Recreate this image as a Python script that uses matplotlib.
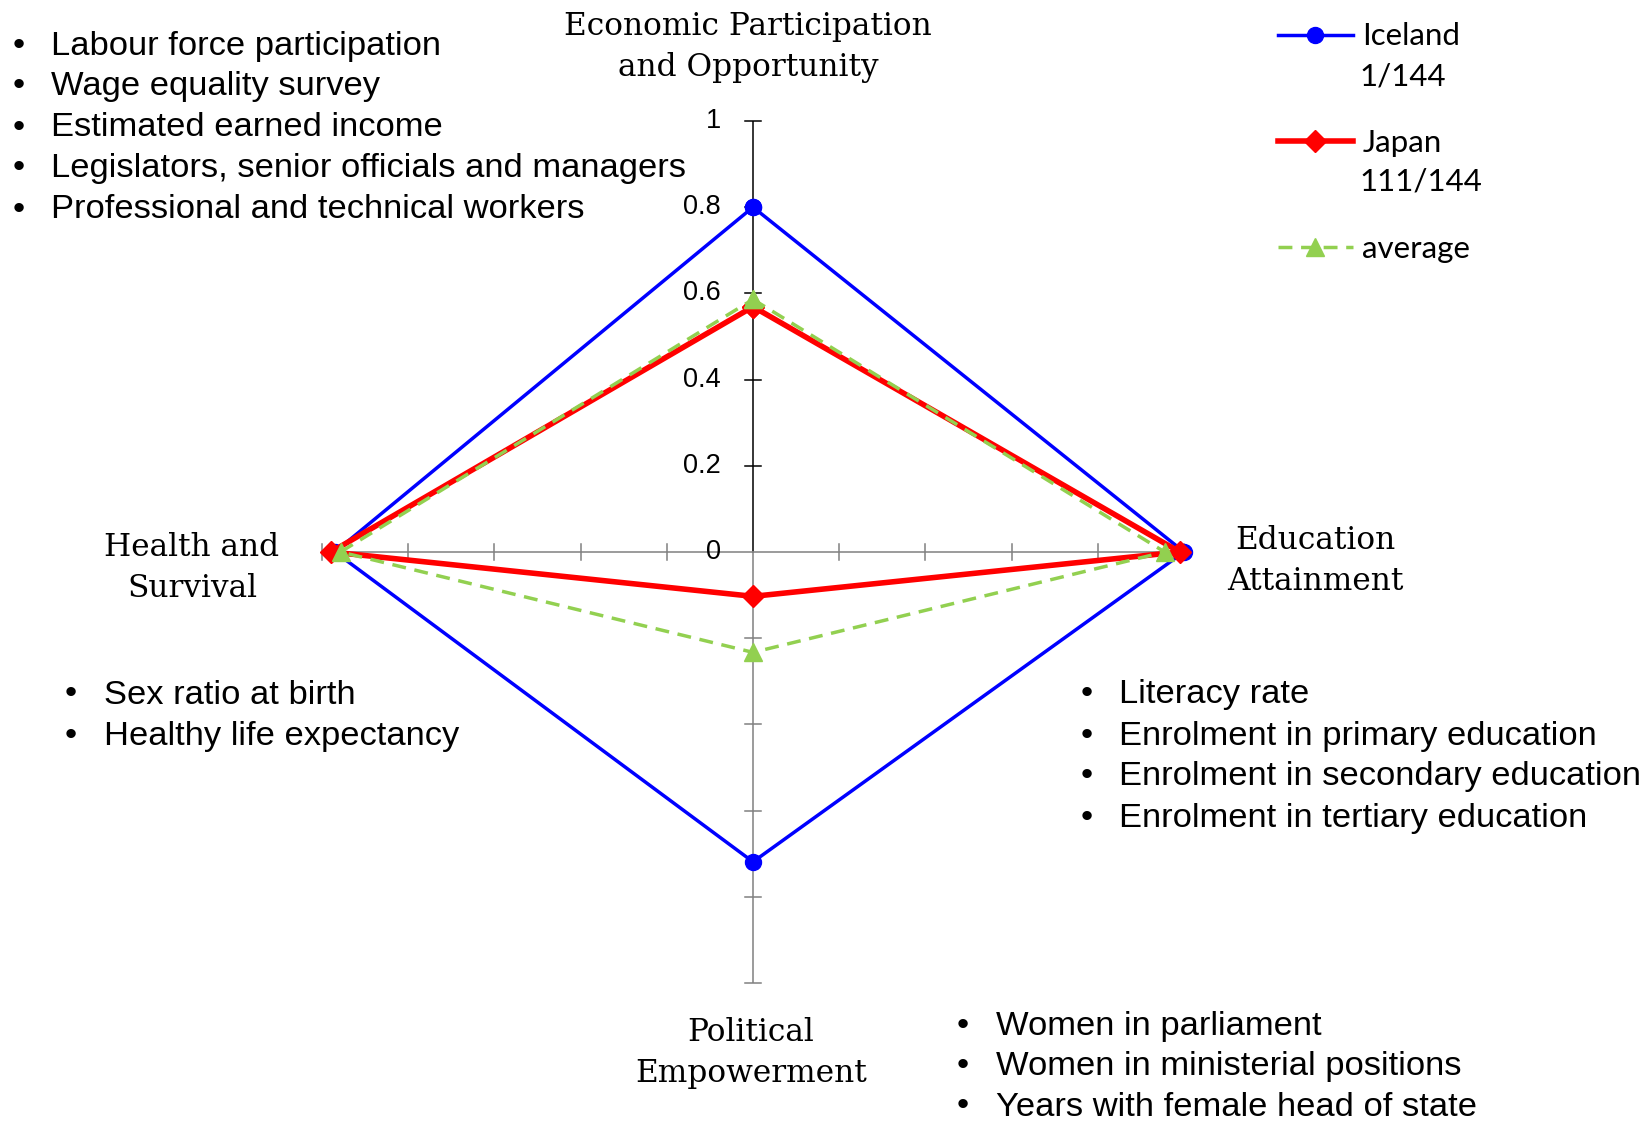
import numpy as np
import matplotlib
matplotlib.use('Agg')
from matplotlib import pyplot as plt
from matplotlib.lines import Line2D

# Global Gender Gap Index 2016 - sub-index scores
categories = ['Economic Participation\nand Opportunity', 'Education\nAttainment',
              'Political\nEmpowerment', 'Health and\nSurvival']
angles = [90, 0, 270, 180]  # degrees, spoke direction of each category
iceland = [0.800, 1.000, 0.719, 0.970]
japan = [0.569, 0.990, 0.103, 0.979]
average = [0.586, 0.955, 0.233, 0.957]

series_names = ['Iceland', 'Japan', 'average']
series_ranks = ['1/144', '111/144', '']
tick_values = [0, 0.2, 0.4, 0.6, 0.8, 1.0]
tick_labels = ['0', '0.2', '0.4', '0.6', '0.8', '1']

econ_items = ['Labour force participation', 'Wage equality survey', 'Estimated earned income',
              'Legislators, senior officials and managers', 'Professional and technical workers']
health_items = ['Sex ratio at birth', 'Healthy life expectancy']
edu_items = ['Literacy rate', 'Enrolment in primary education',
             'Enrolment in secondary education', 'Enrolment in tertiary education']
pol_items = ['Women in parliament', 'Women in ministerial positions',
             'Years with female head of state']

SERIF = 'DejaVu Serif'
SANS = 'Liberation Sans'
LEG = 'Lato'


def to_xy(values):
    th = np.deg2rad(angles + angles[:1])
    r = np.array(values + values[:1])
    return r * np.cos(th), r * np.sin(th)


fig = plt.figure(figsize=(16.42, 11.23), dpi=100)
ax = fig.add_axes([0.1961, 0.1247, 0.525, 0.7676])
ax.set_xlim(-1, 1)
ax.set_ylim(-1, 1)
ax.axis('off')

# spokes with tick marks
tl = 0.019
for a in angles:
    c, s = np.cos(np.deg2rad(a)), np.sin(np.deg2rad(a))
    col = 'black' if a == 90 else '#808080'
    ax.plot([0, c], [0, s], color=col, lw=1.1, zorder=1)
    for t in tick_values[1:]:
        ax.plot([t * c - tl * s, t * c + tl * s], [t * s - tl * c, t * s + tl * c],
                color=col, lw=1.1, zorder=1, clip_on=False)

for t, lab in zip(tick_values, tick_labels):
    ax.text(-0.075, t, lab, ha='right', va='center', fontsize=19.5, family=SANS)

styles = [
    dict(color='#0000FF', lw=2.5, marker='o', ms=11.5),
    dict(color='#FF0000', lw=4.0, marker='D', ms=11.5),
    dict(color='#92D050', lw=2.5, ls=(0, (4, 2.5)), marker='^', ms=12.5),
]
handles = []
for vals, st in zip([iceland, japan, average], styles):
    x, y = to_xy(vals)
    ax.plot(x, y, clip_on=False, zorder=3, **st)
    handles.append(Line2D([], [], **st))

leg = fig.legend(handles, series_names, loc='upper left', bbox_to_anchor=(0.7783, 0.980),
                 frameon=False, handlelength=2.4, handletextpad=0.3, labelspacing=2.5,
                 borderpad=0, borderaxespad=0, prop={'family': LEG, 'size': 22.5})
fig.text(0.8277, 0.9315, series_ranks[0], fontsize=22.5, family=LEG, va='center')
fig.text(0.8277, 0.8388, series_ranks[1], fontsize=22.5, family=LEG, va='center')

# category labels
label_pos = [(0.4555, 0.9585), (0.8008, 0.5005), (0.4574, 0.0625), (0.1169, 0.4940)]
for lab, (x, y) in zip(categories, label_pos):
    fig.text(x, y, lab, ha='center', va='center', fontsize=22.5, family=SERIF, linespacing=1.42)


def bullets(items, xb, xt, ytop, step=41):
    for i, it in enumerate(items):
        y = 1 - (ytop + i * step) / 1123
        fig.text(xb / 1642, y, '\u2022', ha='center', va='center', fontsize=24.8, family=SANS)
        fig.text(xt / 1642, y, it, ha='left', va='center', fontsize=24.8, family=SANS)


bullets(econ_items, 19, 51, 46)
bullets(health_items, 71, 104, 695)
bullets(edu_items, 1087, 1119, 695)
bullets(pol_items, 963, 996, 1027, step=40)

fig.savefig('out.png', dpi=100)
